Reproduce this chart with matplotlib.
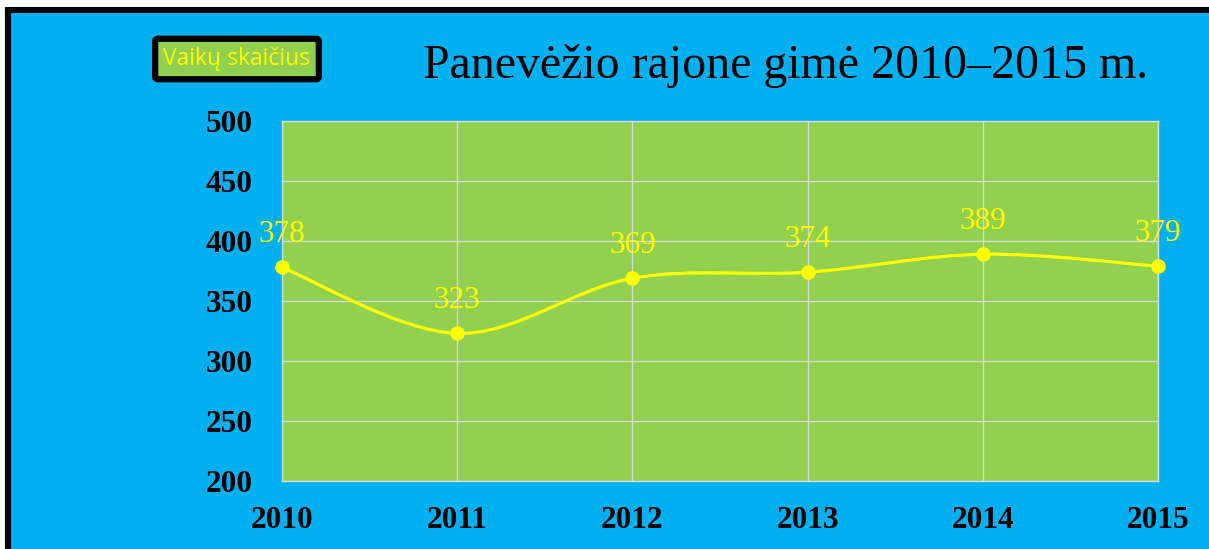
import numpy as np
import matplotlib as mpl
import matplotlib.pyplot as plt
from matplotlib.path import Path
from matplotlib.patches import PathPatch, Rectangle

years = ['2010', '2011', '2012', '2013', '2014', '2015']
births = [378, 323, 369, 374, 389, 379]
y_ticks = [200, 250, 300, 350, 400, 450, 500]

blue = '#00B0F0'
green = '#92D050'
yellow = '#FFFF00'

mpl.rcParams['font.family'] = 'Liberation Serif'

W, H = 1209, 549
fig = plt.figure(figsize=(W / 100, H / 100), dpi=100, facecolor='white')

# Blue chart area with thick black frame (only left/top visible, rest cropped)
frame = Rectangle((8 / W, -0.2), 1.2, 1.2 - 10.5 / H, transform=fig.transFigure,
                  facecolor=blue, edgecolor='black', linewidth=4.4, zorder=-10)
fig.patches.append(frame)

ax = fig.add_axes([282 / W, 1 - 481 / H, (1158 - 282) / W, (481 - 121) / H])
ax.set_facecolor(green)

x = np.arange(len(years))
y = np.array(births, dtype=float)

# Smoothed line drawn as cubic Bezier segments (Catmull-Rom style, like Excel's smoothing)
pts = np.column_stack([x, y])
ext = np.vstack([pts[0], pts, pts[-1]])
verts = [tuple(pts[0])]
codes = [Path.MOVETO]
for i in range(len(pts) - 1):
    p0, p1, p2, p3 = ext[i], ext[i + 1], ext[i + 2], ext[i + 3]
    c1 = p1 + (p2 - p0) / 6
    c2 = p2 - (p3 - p1) / 6
    verts += [tuple(c1), tuple(c2), tuple(p2)]
    codes += [Path.CURVE4] * 3
ax.add_patch(PathPatch(Path(verts, codes), facecolor='none', edgecolor=yellow,
                       linewidth=2.3, zorder=3, clip_on=False))
ax.plot(x, y, linestyle='none', marker='o', markersize=9.5, color=yellow, zorder=4, clip_on=False)

for xi, yi in zip(x, births):
    ax.annotate(str(yi), (xi, yi), xytext=(0, 13), textcoords='offset points',
                ha='center', va='bottom', fontsize=22.5, color=yellow, zorder=5)

ax.set_xlim(0, len(years) - 1)
ax.set_ylim(200, 500)
ax.set_yticks(y_ticks)
ax.set_xticks(x)
ax.set_xticklabels(years)
ax.tick_params(length=0, labelsize=22.5, pad=18)
ax.tick_params(axis='y', pad=21)
for lab in ax.get_xticklabels() + ax.get_yticklabels():
    lab.set_fontweight('bold')
ax.grid(True, color='#D9D9D9', linewidth=1.0)
ax.set_axisbelow(True)
for s in ax.spines.values():
    s.set_color('#D9D9D9')
    s.set_linewidth(1.0)

fig.text(786 / W, 1 - 66 / H, 'Panevėžio rajone gimė 2010–2015 m.', ha='center', va='center',
         fontsize=34.5, color='black')

fig.text(237 / W, 1 - 59 / H, 'Vaikų skaičius', ha='center', va='center', fontsize=16.5,
         color=yellow, family='Open Sans',
         bbox=dict(boxstyle='round,pad=0.36,rounding_size=0.12', facecolor=green,
                   edgecolor='black', linewidth=4.5))

fig.savefig('out.png', dpi=100, facecolor=fig.get_facecolor())
